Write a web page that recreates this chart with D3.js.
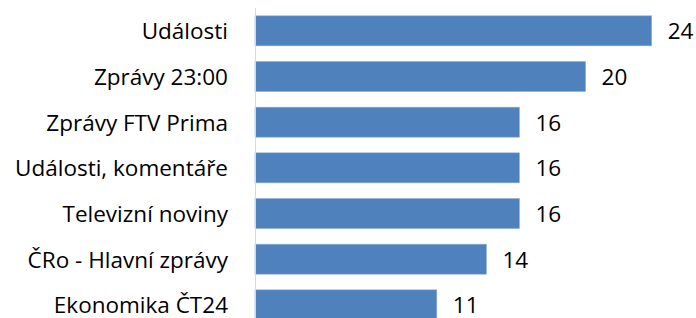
<!DOCTYPE html>
<html>
<head>
<meta charset="utf-8">
<script src="https://cdn.jsdelivr.net/npm/d3@7"></script>
<style>
  body { margin: 0; background: #fff; }
  svg text { font-family: "Open Sans", Lato, sans-serif; fill: #000; }
</style>
</head>
<body>
<svg width="696" height="318"></svg>
<script>
// Chart data
const categories = ["Události", "Zprávy 23:00", "Zprávy FTV Prima", "Události, komentáře",
  "Televizní noviny", "ČRo - Hlavní zprávy", "Ekonomika ČT24"];
const values = [24, 20, 16, 16, 16, 14, 11];

const svg = d3.select("svg");

// Plot area
const plotLeft = 255;
const plotTop = 8;
const step = 45.67;

const xScale = d3.scaleLinear()
  .domain([0, 24])
  .range([plotLeft, 651.7]);

const yScale = d3.scaleBand()
  .domain(categories)
  .range([plotTop, plotTop + step * categories.length])
  .paddingInner(0.343)
  .paddingOuter(0.1715);

// Bars
svg.selectAll("rect.bar")
  .data(values)
  .enter()
  .append("rect")
  .attr("class", "bar")
  .attr("x", xScale(0))
  .attr("y", (d, i) => yScale(categories[i]))
  .attr("width", d => xScale(d) - xScale(0))
  .attr("height", yScale.bandwidth())
  .attr("fill", "#4f81bd")
  .attr("stroke", "#8fb0d8")
  .attr("stroke-width", 0.6);

// Vertical axis line
svg.append("line")
  .attr("x1", plotLeft + 0.5)
  .attr("x2", plotLeft + 0.5)
  .attr("y1", plotTop)
  .attr("y2", 330)
  .attr("stroke", "#d9d9d9")
  .attr("stroke-width", 1);

// Category labels
svg.selectAll("text.cat")
  .data(categories)
  .enter()
  .append("text")
  .attr("class", "cat")
  .attr("x", 228)
  .attr("y", d => yScale(d) + yScale.bandwidth() / 2)
  .attr("dy", "0.38em")
  .attr("text-anchor", "end")
  .style("font-size", "22.5px")
  .text(d => d);

// Value labels
svg.selectAll("text.val")
  .data(values)
  .enter()
  .append("text")
  .attr("class", "val")
  .attr("x", d => xScale(d) + 16)
  .attr("y", (d, i) => yScale(categories[i]) + yScale.bandwidth() / 2)
  .attr("dy", "0.38em")
  .style("font-size", "22.5px")
  .text(d => d);
</script>
</body>
</html>
